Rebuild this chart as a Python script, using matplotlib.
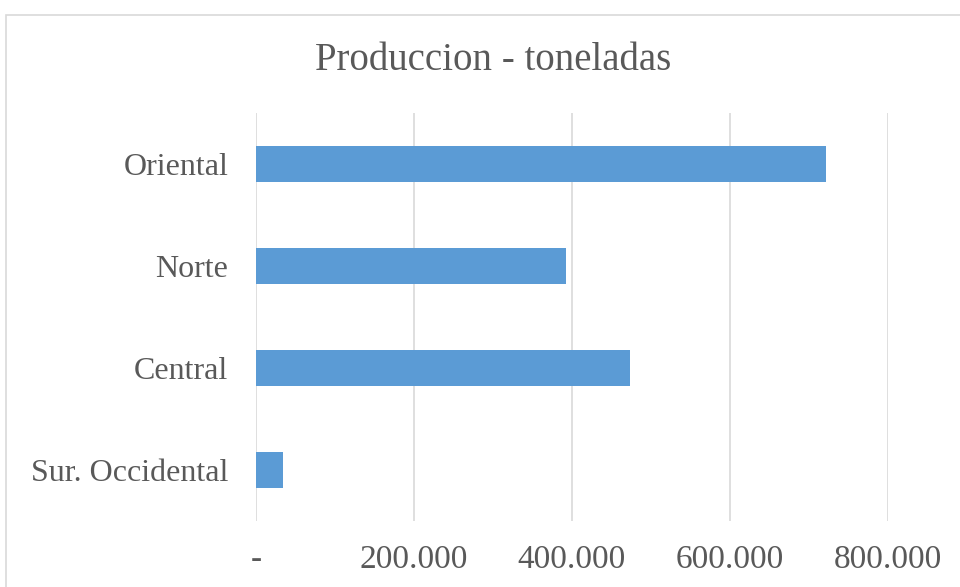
import matplotlib.pyplot as plt
from matplotlib.patches import Rectangle

regiones = ["Sur. Occidental", "Central", "Norte", "Oriental"]
toneladas = [34000, 474000, 392000, 722000]
ticks = [0, 200000, 400000, 600000, 800000]
tick_labels = ["-", "200.000", "400.000", "600.000", "800.000"]

plt.rcParams['font.family'] = ['Liberation Serif', 'DejaVu Serif']
gris = "#595959"

fig = plt.figure(figsize=(9.6, 5.87), dpi=100)
# marco del grafico (se sale por la derecha y abajo)
fig.patches.append(Rectangle((6/960, -0.05), 1.0, 1 - 15/587 + 0.05,
                             transform=fig.transFigure, fill=False,
                             edgecolor="#d9d9d9", linewidth=1.2))

ax = fig.add_axes([256/960, 1 - 521/587, (888 - 256)/960, (521 - 113)/587])
ax.barh(regiones, toneladas, height=0.35, color="#5b9bd5", zorder=3)
ax.set_xlim(0, 800000)
ax.set_ylim(-0.5, 3.5)
ax.set_xticks(ticks)
ax.set_xticklabels(tick_labels)
ax.grid(axis="x", color="#d9d9d9", linewidth=1.2, zorder=0)
for s in ax.spines.values():
    s.set_visible(False)
ax.tick_params(axis="both", length=0, colors=gris)
ax.tick_params(axis="x", pad=17, labelsize=24)
ax.tick_params(axis="y", pad=20, labelsize=23)

fig.text(493/960, 1 - 61/587, "Produccion - toneladas", ha="center", va="center",
         fontsize=28, color=gris)

fig.savefig("out.png", dpi=100)
